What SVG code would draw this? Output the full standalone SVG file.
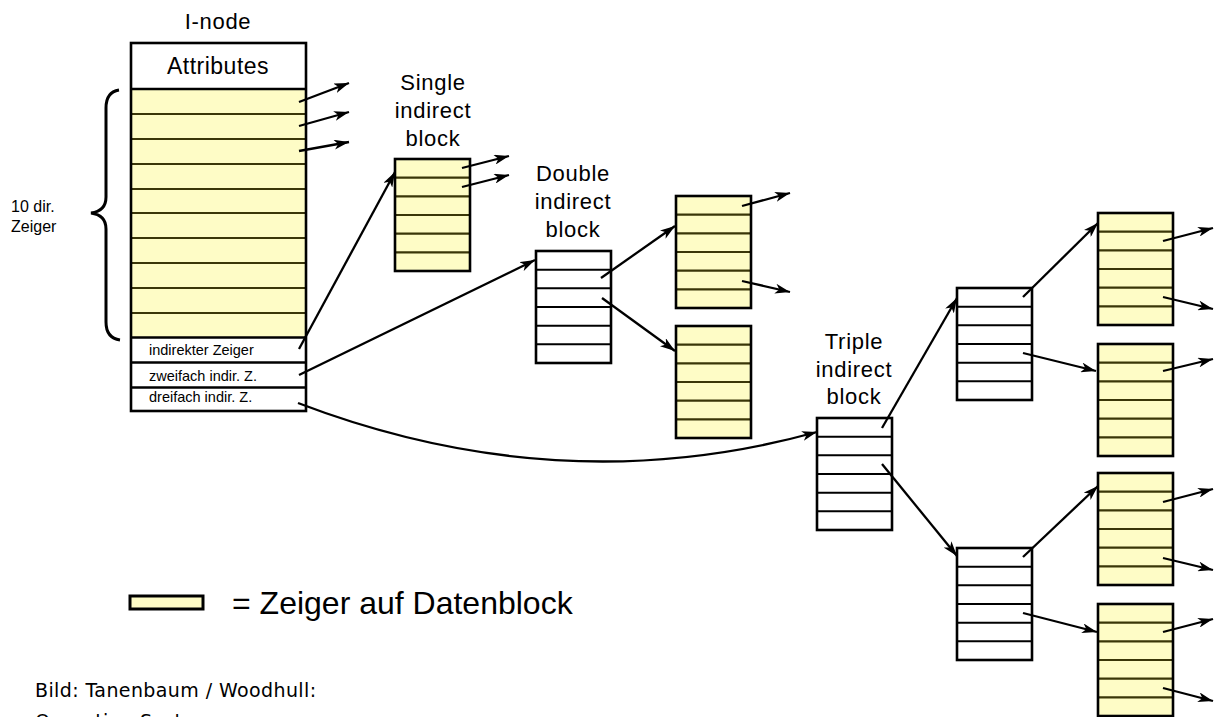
<svg xmlns="http://www.w3.org/2000/svg" xmlns:xlink="http://www.w3.org/1999/xlink" width="1214" height="717" viewBox="0 0 1214 717">
  <style>
    .frame { fill: none; stroke: #000; stroke-width: 2.6; }
    .yfill { fill: #fefcc6; }
    .wfill { fill: #fff; }
    .yrow { stroke: #3a3608; stroke-width: 2.2; }
    .wrow { stroke: #000; stroke-width: 2; }
    .lbl { font-family: "Liberation Sans", Arial, sans-serif; fill: #000; }
    .title { font-size: 22px; letter-spacing: 0.7px; text-anchor: middle; }
    .small { font-size: 14.5px; }
    .conn { fill: none; stroke: #000; stroke-width: 2.3; marker-end: url(#head); }
    .note { font-family: "DejaVu Sans", sans-serif; font-size: 19px; letter-spacing: 0.4px; fill: #000; }
  </style>
  <defs>
    <marker id="head" markerUnits="userSpaceOnUse" markerWidth="16" markerHeight="10" refX="15" refY="5" orient="auto">
      <path d="M0,0 L15,5 L0,10 L4,5 z" fill="#000"/>
    </marker>
    <!-- block of six pointer slots, data pointers (yellow) -->
    <g id="ylw-block">
      <rect width="75" height="112" class="yfill"/>
      <line x1="1" y1="18.7" x2="74" y2="18.7" class="yrow"/>
      <line x1="1" y1="37.3" x2="74" y2="37.3" class="yrow"/>
      <line x1="1" y1="56" x2="74" y2="56" class="yrow"/>
      <line x1="1" y1="74.7" x2="74" y2="74.7" class="yrow"/>
      <line x1="1" y1="93.3" x2="74" y2="93.3" class="yrow"/>
      <rect width="75" height="112" class="frame"/>
    </g>
    <!-- block of six pointer slots, indirect pointers (white) -->
    <g id="wht-block">
      <rect width="75" height="112" class="wfill"/>
      <line x1="0" y1="18.7" x2="75" y2="18.7" class="wrow"/>
      <line x1="0" y1="37.3" x2="75" y2="37.3" class="wrow"/>
      <line x1="0" y1="56" x2="75" y2="56" class="wrow"/>
      <line x1="0" y1="74.7" x2="75" y2="74.7" class="wrow"/>
      <line x1="0" y1="93.3" x2="75" y2="93.3" class="wrow"/>
      <rect width="75" height="112" class="frame"/>
    </g>
  </defs>

  <rect width="1214" height="717" fill="#fff"/>

  <!-- i-node -->
  <g id="inode">
    <text x="218" y="29" class="lbl title" font-size="23">I-node</text>
    <rect x="131" y="43" width="175" height="368" class="wfill"/>
    <rect x="131" y="89" width="175" height="248" class="yfill"/>
    <g class="yrow">
      <line x1="132" y1="114" x2="305" y2="114"/>
      <line x1="132" y1="139" x2="305" y2="139"/>
      <line x1="132" y1="164" x2="305" y2="164"/>
      <line x1="132" y1="189" x2="305" y2="189"/>
      <line x1="132" y1="213" x2="305" y2="213"/>
      <line x1="132" y1="238" x2="305" y2="238"/>
      <line x1="132" y1="263" x2="305" y2="263"/>
      <line x1="132" y1="288" x2="305" y2="288"/>
      <line x1="132" y1="313" x2="305" y2="313"/>
    </g>
    <g stroke="#000" stroke-width="2.6">
      <line x1="131" y1="89" x2="306" y2="89"/>
      <line x1="131" y1="337.5" x2="306" y2="337.5"/>
      <line x1="131" y1="362.5" x2="306" y2="362.5"/>
      <line x1="131" y1="387.5" x2="306" y2="387.5"/>
    </g>
    <rect x="131" y="43" width="175" height="368" class="frame"/>
    <text x="218" y="74" class="lbl" font-size="23" letter-spacing="0.5" text-anchor="middle">Attributes</text>
    <text x="149" y="355" class="lbl small">indirekter Zeiger</text>
    <text x="149" y="381" class="lbl small">zweifach indir. Z.</text>
    <text x="149" y="402" class="lbl small">dreifach indir. Z.</text>
  </g>

  <!-- brace over the ten direct pointers -->
  <g id="direct-brace">
    <path d="M119,90 Q106,92 106,108 L106,197 Q106,211 91,213 Q106,215 106,229 L106,322 Q106,338 120,340" fill="none" stroke="#000" stroke-width="3"/>
    <text x="11" y="212" class="lbl" font-size="16">10 dir.</text>
    <text x="11" y="232" class="lbl" font-size="16">Zeiger</text>
  </g>

  <!-- single indirect block -->
  <g id="single-indirect">
    <text class="lbl title"><tspan x="433" y="90">Single</tspan><tspan x="433" y="118">indirect</tspan><tspan x="433" y="146">block</tspan></text>
    <use xlink:href="#ylw-block" x="395" y="159"/>
  </g>

  <!-- double indirect block and its data blocks -->
  <g id="double-indirect">
    <text class="lbl title"><tspan x="573" y="181">Double</tspan><tspan x="573" y="209">indirect</tspan><tspan x="573" y="237">block</tspan></text>
    <use xlink:href="#wht-block" x="536" y="251"/>
  </g>
  <g id="double-data-1"><use xlink:href="#ylw-block" x="676" y="196"/></g>
  <g id="double-data-2"><use xlink:href="#ylw-block" x="676" y="326"/></g>

  <!-- triple indirect block and its subtree -->
  <g id="triple-indirect">
    <text class="lbl title"><tspan x="854" y="349">Triple</tspan><tspan x="854" y="377">indirect</tspan><tspan x="854" y="404">block</tspan></text>
    <use xlink:href="#wht-block" x="817" y="418"/>
  </g>
  <g id="triple-mid-1"><use xlink:href="#wht-block" x="957" y="288"/></g>
  <g id="triple-mid-2"><use xlink:href="#wht-block" x="957" y="548"/></g>
  <g id="triple-data-1"><use xlink:href="#ylw-block" x="1098" y="213"/></g>
  <g id="triple-data-2"><use xlink:href="#ylw-block" x="1098" y="344"/></g>
  <g id="triple-data-3"><use xlink:href="#ylw-block" x="1098" y="473"/></g>
  <g id="triple-data-4"><use xlink:href="#ylw-block" x="1098" y="604"/></g>

  <!-- pointers -->
  <g id="connectors">
    <line x1="299" y1="102" x2="349" y2="83" class="conn"/>
    <line x1="299" y1="126" x2="349" y2="112" class="conn"/>
    <line x1="299" y1="151" x2="349" y2="142" class="conn"/>
    <line x1="299" y1="349" x2="395" y2="172" class="conn"/>
    <line x1="299" y1="375" x2="535" y2="260" class="conn"/>
    <path d="M298,403 Q560,503 817,432" class="conn"/>
    <line x1="462" y1="168" x2="509" y2="156" class="conn"/>
    <line x1="462" y1="187" x2="509" y2="175" class="conn"/>
    <line x1="601" y1="278" x2="675" y2="226" class="conn"/>
    <line x1="602" y1="298" x2="675" y2="351" class="conn"/>
    <line x1="742" y1="206" x2="790" y2="193" class="conn"/>
    <line x1="742" y1="281" x2="790" y2="292" class="conn"/>
    <line x1="882" y1="428" x2="957" y2="298" class="conn"/>
    <line x1="882" y1="464" x2="957" y2="556" class="conn"/>
    <line x1="1023" y1="297" x2="1098" y2="223" class="conn"/>
    <line x1="1023" y1="353" x2="1096" y2="371" class="conn"/>
    <line x1="1023" y1="557" x2="1098" y2="486" class="conn"/>
    <line x1="1023" y1="613" x2="1097" y2="632" class="conn"/>
    <line x1="1163" y1="241" x2="1213" y2="228" class="conn"/>
    <line x1="1163" y1="297" x2="1213" y2="309" class="conn"/>
    <line x1="1163" y1="371" x2="1213" y2="359" class="conn"/>
    <line x1="1163" y1="502" x2="1213" y2="489" class="conn"/>
    <line x1="1163" y1="558" x2="1213" y2="570" class="conn"/>
    <line x1="1163" y1="632" x2="1213" y2="619" class="conn"/>
    <line x1="1163" y1="688" x2="1213" y2="701" class="conn"/>
  </g>

  <!-- legend -->
  <g id="legend">
    <rect x="130" y="596" width="73" height="13" class="yfill" stroke="#000" stroke-width="3"/>
    <text x="232" y="614" class="lbl" font-size="32">= Zeiger auf Datenblock</text>
  </g>

  <!-- source note; its second line runs past the lower edge -->
  <g id="source">
    <text x="35" y="697" class="note">Bild: Tanenbaum / Woodhull:</text>
    <text x="35" y="728" class="note">Operating Systems</text>
  </g>
</svg>
